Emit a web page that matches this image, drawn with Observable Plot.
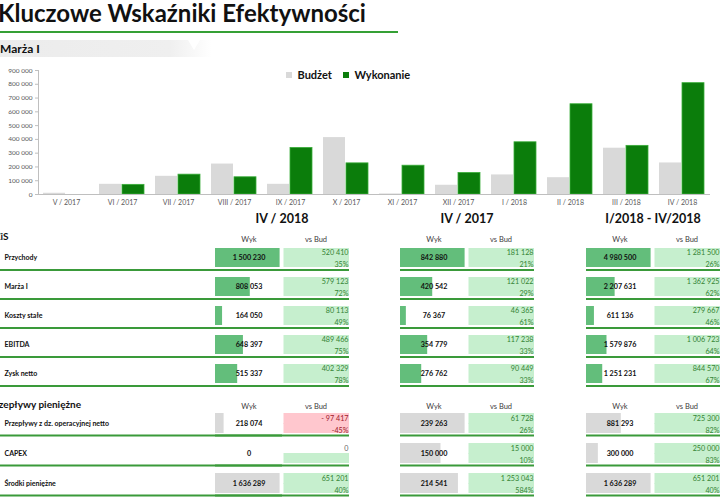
<!DOCTYPE html>
<html><head><meta charset="utf-8">
<script src="https://cdn.jsdelivr.net/npm/d3@7"></script>
<script src="https://cdn.jsdelivr.net/npm/@observablehq/plot@0.6"></script>
<style>
body{margin:0;background:#fff;font-family:Lato,"Open Sans",sans-serif;}
#root{position:relative;width:720px;height:500px;overflow:hidden;}
.abs{position:absolute;white-space:nowrap;}
#title{left:-2px;top:-2px;font-size:24px;font-weight:bold;color:#111;}
#uline{left:0;top:31px;width:398px;height:2px;background:#35a035;}
#banner{left:0;top:40px;width:212px;height:17px;background:linear-gradient(90deg,#ececec 0%,#efefef 80%,rgba(240,240,240,0) 100%);}
#tri{left:188px;top:40px;width:0;height:0;border-left:6px solid transparent;border-right:6px solid transparent;border-top:10px solid #fff;}
#bantxt{left:0;top:41px;font-size:12px;font-weight:bold;color:#111;}
.ph{font-size:12.5px;font-weight:bold;color:#111;transform:translateX(-50%);}
.sec{font-size:10px;font-weight:bold;color:#111;}
</style></head>
<body><div id="root">
<div class="abs" id="title">Kluczowe Wskaźniki Efektywności</div>
<div class="abs" id="uline"></div>
<div class="abs" id="banner"></div>
<div class="abs" id="tri"></div>
<div class="abs" id="bantxt">Marża I</div>
</div>
<script>
// ---------- data ----------
const months = ["V / 2017","VI / 2017","VII / 2017","VIII / 2017","IX / 2017","X / 2017","XI / 2017","XII / 2017","I / 2018","II / 2018","III / 2018","IV / 2018"];
const budzet = [9000, 74000, 132000, 221000, 74000, 413000, 4000, 67000, 142000, 122000, 336000, 228930];
const wykonanie = [0, 70000, 144000, 125000, 338000, 226000, 209000, 156000, 379000, 655000, 353000, 808053];
const seriesNames = ["Budżet", "Wykonanie"];
const yTicks = [0,100000,200000,300000,400000,500000,600000,700000,800000,900000];

const panels = ["IV / 2018", "IV / 2017", "I/2018 - IV/2018"];
const columns = ["Wyk", "vs Bud"];
const sectionNames = ["RZiS", "Przepływy pieniężne"];

const rzisRows = ["Przychody", "Marża I", "Koszty stałe", "EBITDA", "Zysk netto"];
const rzisWyk = [
  [1500230, 808053, 164050, 648397, 515337],
  [842880, 420542, 76367, 354779, 276762],
  [4980500, 2207631, 611136, 1579876, 1251231]
];
const rzisVsBud = [
  [520410, 579123, 80113, 489466, 402329],
  [181128, 121022, 46365, 117238, 90449],
  [1281500, 1362925, 279667, 1006723, 844570]
];
const rzisPct = [
  [35, 72, 49, 75, 78],
  [21, 29, 61, 33, 33],
  [26, 62, 46, 64, 67]
];

const cfRows = ["Przepływy z dz. operacyjnej netto", "CAPEX", "Środki pieniężne"];
const cfWyk = [
  [218074, 0, 1636289],
  [239263, 150000, 214541],
  [881293, 300000, 1636289]
];
const cfVsBud = [
  [-97417, 0, 651201],
  [61728, 15000, 1253043],
  [725300, 250000, 651201]
];
const cfPct = [
  [-45, null, 40],
  [26, 10, 584],
  [82, 83, 40]
];

// ---------- helpers ----------
const FONT = "Lato, 'Open Sans', sans-serif";
const fmtNum = v => (v < 0 ? "- " : "") + d3.format(",")(Math.abs(v)).replace(/,/g, " ");
const fmtPct = v => v == null ? "" : v + "%";
const GOOD_BG = "#c6efce", BAD_BG = "#ffc7ce", GOOD_TX = "#348434", BAD_TX = "#a0202a";
const root = document.getElementById("root");
function place(node, left, top) {
  node.style.position = "absolute"; node.style.left = left + "px"; node.style.top = top + "px";
  root.appendChild(node);
}
function addText(txt, cls, left, top) {
  const d = document.createElement("div"); d.className = "abs " + cls; d.textContent = txt;
  d.style.left = left + "px"; d.style.top = top + "px"; root.appendChild(d);
}

// ---------- bar chart ----------
const barData = months.map((m, i) => ({month: m, bud: budzet[i], wyk: wykonanie[i]}));
const chart = Plot.plot({
  width: 720, height: 150,
  marginTop: 10, marginBottom: 16, marginLeft: 33, marginRight: 5,
  style: {fontFamily: FONT, background: "transparent", color: "#595959"},
  fx: {domain: months, padding: 0, label: null},
  x: {domain: seriesNames, paddingInner: 0.04, paddingOuter: 0.2, axis: null},
  y: {domain: [0, 900000], label: null},
  marks: [
    Plot.axisY({ticks: yTicks, tickFormat: fmtNum, tickSize: 3, tickPadding: 3, fontSize: 6.5, stroke: "#bfbfbf", label: null}),
    Plot.axisFx({anchor: "bottom", tickSize: 0, tickPadding: 6, fontSize: 7, label: null}),
    Plot.barY(barData, {fx: "month", x: () => "Budżet", y: "bud", fill: "#d9d9d9"}),
    Plot.barY(barData, {fx: "month", x: () => "Wykonanie", y: "wyk", fill: "#0b7d0b", stroke: "#3aad3a", strokeWidth: 0.8}),
    Plot.ruleY([0], {stroke: "#bfbfbf"}),
    Plot.frame({anchor: "left", facetAnchor: "left", stroke: "#bfbfbf"})
  ]
});
place(chart, 0, 60);

const legend = Plot.legend({
  color: {type: "ordinal", domain: seriesNames, range: ["#d9d9d9", "#0b7d0b"]},
  swatchSize: 6, swatchWidth: 6, swatchHeight: 6,
  style: {fontFamily: FONT, fontSize: "11px", fontWeight: "bold", color: "#111", background: "transparent"}
});
place(legend, 286, 58);

// ---------- tables ----------
function table(rows, wyk, vs, pct, barFill, showLabels, width) {
  const data = rows.map((r, i) => ({row: r, wyk: wyk[i], vs: vs[i], pct: pct[i]}));
  const W = () => "Wyk", B = () => "vs Bud";
  const marks = [
    Plot.axisFx({anchor: "top", tickSize: 0, tickPadding: 5, fontSize: 7.5, fill: "#404040", label: null}),
    Plot.cell(data, {fx: B, y: "row", insetLeft: 1.5, insetBottom: 9,
      fill: d => d.vs < 0 ? BAD_BG : d.vs > 0 ? GOOD_BG : "white"}),
    Plot.cell(data, {fx: B, y: "row", insetLeft: 1.5, insetTop: 10,
      fill: d => d.pct < 0 ? BAD_BG : GOOD_BG}),
    Plot.barX(data, {fx: W, y: "row", x: "wyk", fill: barFill}),
    Plot.text(data, {fx: W, y: "row", text: d => fmtNum(d.wyk), fontWeight: "bold", fontSize: 7.2, fill: "#111"}),
    Plot.text(data, {fx: B, y: "row", text: d => fmtNum(d.vs), frameAnchor: "right", textAnchor: "end", dx: -1, dy: -5, fontSize: 7.2,
      fill: d => d.vs < 0 ? BAD_TX : d.vs > 0 ? GOOD_TX : "#666"}),
    Plot.text(data, {fx: B, y: "row", text: d => fmtPct(d.pct), frameAnchor: "right", textAnchor: "end", dx: -1, dy: 7, fontSize: 7.2,
      fill: d => d.pct < 0 ? BAD_TX : GOOD_TX}),
    Plot.ruleY(data, {y: "row", dy: 12, stroke: "#3a9a3a", strokeWidth: 2})
  ];
  if (showLabels) {
    marks.push(Plot.text(data, {fx: W, y: "row", text: "row", frameAnchor: "left", textAnchor: "start", dx: -211, fontWeight: "bold", fontSize: 7, fill: "#111"}));
    marks.push(Plot.ruleY(data, {fx: W, y: "row", dy: 12, insetLeft: -215, stroke: "#3a9a3a", strokeWidth: 2}));
  }
  return Plot.plot({
    width: width, height: 20 + rows.length * 30 - 10 + 4,
    marginTop: 20, marginBottom: 4, marginLeft: showLabels ? 215 : 0, marginRight: 0,
    style: {fontFamily: FONT, background: "transparent", overflow: "visible"},
    color: {type: "identity"},
    fx: {domain: columns, padding: 0, label: null},
    x: {domain: [0, d3.max(wyk)], insetRight: 2.4, axis: null},
    y: {domain: rows, paddingInner: 1 / 3, paddingOuter: 0, axis: null},
    marks
  });
}

const panelLeft = [0, 399, 585];
const panelCenter = [282, 467, 653];
const panelWidth = [349, 135, 135];
panels.forEach((p, k) => {
  addText(p, "ph", panelCenter[k], 211);
  place(table(rzisRows, rzisWyk[k], rzisVsBud[k], rzisPct[k], "#63be7b", k === 0, panelWidth[k]), panelLeft[k], 226);
  place(table(cfRows, cfWyk[k], cfVsBud[k], cfPct[k], "#d9d9d9", k === 0, panelWidth[k]), panelLeft[k], 393);
});
addText(sectionNames[0], "sec", -12, 230);
addText(sectionNames[1], "sec", -11, 398);
</script>
</body></html>
